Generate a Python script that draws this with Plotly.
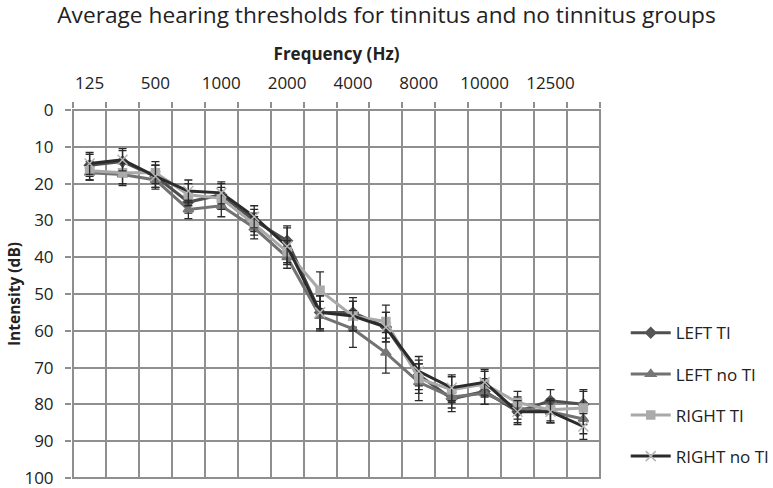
import plotly.graph_objects as go

freqs = ["125", "250", "500", "750", "1000", "1500", "2000", "3000", "4000",
         "6000", "8000", "9000", "10000", "11200", "12500", "14000"]
shown_labels = ["125", "500", "1000", "2000", "4000", "8000", "10000", "12500"]

left_ti = [15, 14, 18, 25, 23, 30, 35.5, 55, 55, 59, 72, 78.5, 76.5, 82, 79, 80]
left_no_ti = [17, 17.5, 19, 27, 26, 32, 40, 56, 59.5, 66, 74, 78, 77, 81, 82, 84]
right_ti = [16.5, 17, 17, 23, 24, 31, 38.5, 49, 56, 57.5, 73, 76, 74.5, 79.5, 81.5, 81]
right_no_ti = [14.5, 13.5, 18, 22, 22.5, 29, 37, 55, 56, 59, 71, 75.5, 74, 82, 82, 86]

left_ti_err = [3, 3, 3, 3, 3, 3, 4, 4.5, 4, 4, 4, 3.5, 3.5, 3.5, 3, 4]
left_no_ti_err = [2, 3, 2.5, 2.5, 3, 3, 3, 4, 5, 5.5, 5, 3, 3, 3, 3, 4]
right_ti_err = [2.5, 3, 3, 3, 3, 3, 3, 5, 4, 4.5, 4, 3.5, 3.5, 3, 3, 4.5]
right_no_ti_err = [3, 3, 3, 3, 3, 3, 5, 4.5, 4, 4, 4, 3.5, 3.5, 3, 3, 3.5]

series = [
    ("LEFT TI", left_ti, left_ti_err, "#4f4f4f", "#555555", "diamond", 8),
    ("LEFT no TI", left_no_ti, left_no_ti_err, "#727272", "#767676", "triangle-up", 9),
    ("RIGHT TI", right_ti, right_ti_err, "#a8a8a8", "#ababab", "square", 8),
    ("RIGHT no TI", right_no_ti, right_no_ti_err, "#2b2b2b", "#b5b5b5", "x-thin-open", 10),
]

xs = list(range(len(freqs)))
fig = go.Figure()
for i, (name, vals, err, lc, mc, sym, ms) in enumerate(series):
    fig.add_trace(go.Scatter(
        x=xs, y=vals, name=name, mode="lines+markers",
        line=dict(color=lc, width=3),
        marker=dict(symbol=sym, size=ms, color=mc, line=dict(color=mc, width=1.5)),
        error_y=dict(type="data", array=err, visible=True, color="#2a2a2a", thickness=1.3, width=4),
        legendgroup=f"g{i}",
    ))

tick_idx = [freqs.index(l) for l in shown_labels]
fig.update_layout(
    width=773, height=488,
    margin=dict(l=72, r=172, t=108.5, b=9),
    paper_bgcolor="white", plot_bgcolor="white",
    font=dict(family="Open Sans", color="#222222", size=15),
    title=dict(text="Average hearing thresholds for tinnitus and no tinnitus groups",
               x=0.5, xref="container", xanchor="center", y=0.985, yanchor="top",
               font=dict(size=22.7, family="Open Sans", color="#222222")),
    xaxis=dict(
        side="top", range=[-0.535, len(freqs) - 0.465], automargin=False,
        tickmode="array", tickvals=tick_idx, ticktext=shown_labels,
        showgrid=False, ticks="outside", ticklen=12, tickcolor="rgba(0,0,0,0)",
        zeroline=False,
        tickfont=dict(size=17),
        title=dict(text="<b>Frequency (Hz)</b>", font=dict(size=17), standoff=6),
        minor=dict(tickmode="array", tickvals=[i - 0.5 for i in range(len(freqs) + 1)],
                   showgrid=True, gridcolor="#8f8f8f", gridwidth=1.5,
                   ticks="outside", ticklen=6, tickcolor="#8f8f8f", tickwidth=1.5),
    ),
    yaxis=dict(
        range=[100.3, -0.3], dtick=10, tick0=0, automargin=False,
        showgrid=True, gridcolor="#8f8f8f", gridwidth=1.5,
        ticks="outside", ticklen=6, tickcolor="#8f8f8f", tickwidth=1.5,
        ticklabelstandoff=8, ticklabeloverflow="allow",
        zeroline=False, tickfont=dict(size=17),
        title=dict(text="<b>Intensity (dB)</b>", font=dict(size=15.5), standoff=0),
    ),
    legend=dict(xref="container", yref="container", x=0.8095, y=0.354,
                xanchor="left", yanchor="top",
                font=dict(size=17, color="#222222"), tracegroupgap=16,
                itemwidth=40, bgcolor="rgba(0,0,0,0)"),
    showlegend=True,
)

fig.write_html("out.html", post_script="document.body.style.margin='0';",
               config={"displayModeBar": False})
